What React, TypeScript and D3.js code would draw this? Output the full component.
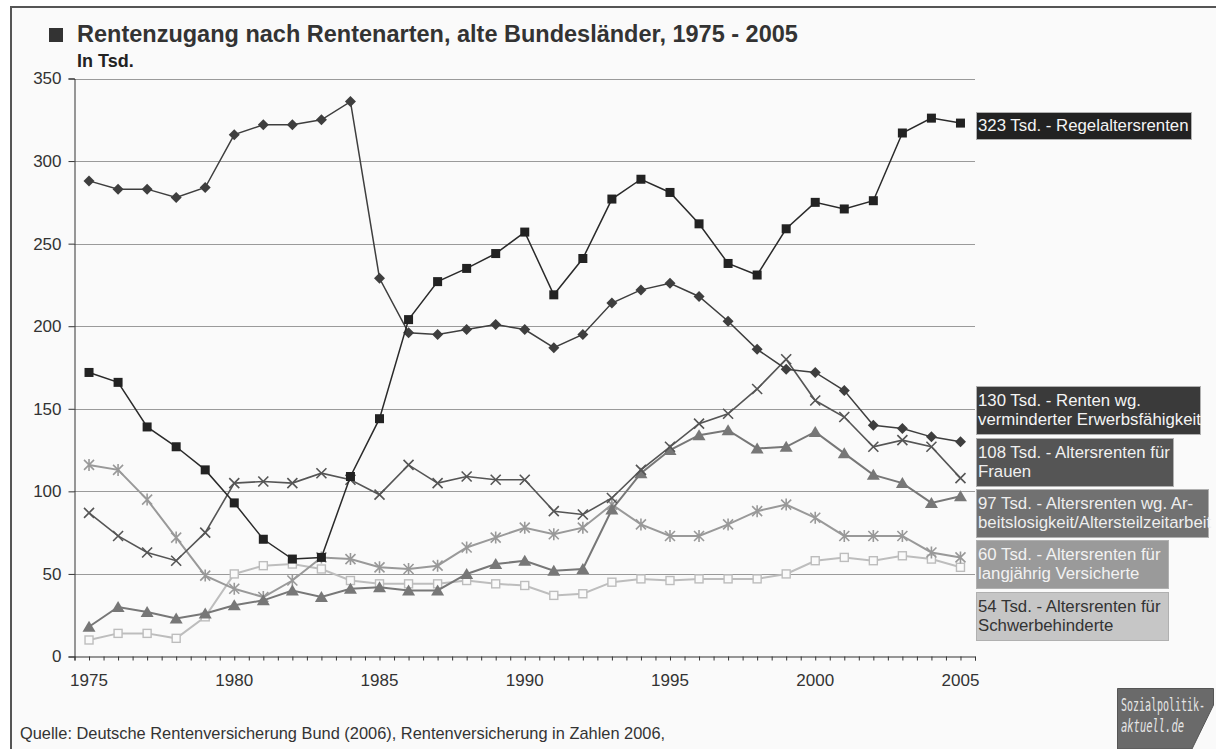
import * as d3 from "d3";
import { useLayoutEffect, useRef } from "react";

// years on the x axis
const years = d3.range(1975, 2006);

// values in thousand
const regelaltersrenten = [172, 166, 139, 127, 113, 93, 71, 59, 60, 109, 144, 204, 227, 235, 244, 257, 219, 241, 277, 289, 281, 262, 238, 231, 259, 275, 271, 276, 317, 326, 323];
const erwerbsfaehigkeit = [288, 283, 283, 278, 284, 316, 322, 322, 325, 336, 229, 196, 195, 198, 201, 198, 187, 195, 214, 222, 226, 218, 203, 186, 174, 172, 161, 140, 138, 133, 130];
const frauen = [87, 73, 63, 58, 75, 105, 106, 105, 111, 107, 98, 116, 105, 109, 107, 107, 88, 86, 96, 113, 127, 141, 147, 162, 180, 155, 145, 127, 131, 127, 108];
const arbeitslosigkeit = [18, 30, 27, 23, 26, 31, 34, 40, 36, 41, 42, 40, 40, 50, 56, 58, 52, 53, 89, 111, 125, 134, 137, 126, 127, 136, 123, 110, 105, 93, 97];
const langjaehrig = [116, 113, 95, 72, 49, 41, 36, 46, 60, 59, 54, 53, 55, 66, 72, 78, 74, 78, 92, 80, 73, 73, 80, 88, 92, 84, 73, 73, 73, 63, 60];
const schwerbehindert = [10, 14, 14, 11, 24, 50, 55, 56, 53, 46, 44, 44, 44, 46, 44, 43, 37, 38, 45, 47, 46, 47, 47, 47, 50, 58, 60, 58, 61, 59, 54];

const yTicks = [0, 50, 100, 150, 200, 250, 300, 350];
const xLabels = [1975, 1980, 1985, 1990, 1995, 2000, 2005];

type Marker = "square" | "diamond" | "x" | "triangle" | "star" | "hollow";

const series: { key: string; values: number[]; color: string; width: number; marker: Marker }[] = [
  { key: "schwer", values: schwerbehindert, color: "#bdbdbd", width: 2, marker: "hollow" },
  { key: "lang", values: langjaehrig, color: "#999", width: 2, marker: "star" },
  { key: "arbeit", values: arbeitslosigkeit, color: "#777", width: 2, marker: "triangle" },
  { key: "frauen", values: frauen, color: "#555", width: 1.6, marker: "x" },
  { key: "erwerb", values: erwerbsfaehigkeit, color: "#3e3e3e", width: 1.5, marker: "diamond" },
  { key: "regel", values: regelaltersrenten, color: "#2a2a2a", width: 1.5, marker: "square" },
];

// end labels on the right
const labels = [
  { lines: ["323 Tsd. - Regelaltersrenten"], top: 112, w: 215, fill: "#222", text: "#f4f4f4" },
  { lines: ["130 Tsd. - Renten wg.", "verminderter Erwerbsfähigkeit"], top: 386, w: 224, fill: "#3a3a3a", text: "#f4f4f4" },
  { lines: ["108 Tsd. - Altersrenten für", "Frauen"], top: 438, w: 197, fill: "#555", text: "#f0f0f0" },
  { lines: ["97 Tsd. - Altersrenten wg. Ar-", "beitslosigkeit/Altersteilzeitarbeit"], top: 489, w: 232, fill: "#717171", text: "#eeeeee" },
  { lines: ["60 Tsd. - Altersrenten für", "langjährig Versicherte"], top: 540, w: 192, fill: "#9a9a9a", text: "#f2f2f2" },
  { lines: ["54 Tsd. - Altersrenten für", "Schwerbehinderte"], top: 592, w: 192, fill: "#c6c6c6", text: "#333" },
];

const W = 1216;
const H = 749;
const FONT = "'Liberation Sans', Arial, sans-serif";

export default function App() {
  const ref = useRef<SVGSVGElement>(null);

  useLayoutEffect(() => {
    const svg = d3.select(ref.current);
    svg.selectAll("*").remove();

    const x = d3.scaleLinear().domain([1974.5, 2005.5]).range([74.5, 975]);
    const y = d3.scaleLinear().domain([0, 350]).range([656.5, 78.5]);

    // frame
    svg.append("rect").attr("width", W).attr("height", H).attr("fill", "#fff");
    svg.append("rect")
      .attr("x", 11).attr("y", 7).attr("width", W + 20).attr("height", H + 20)
      .attr("fill", "#fafafa").attr("stroke", "#555").attr("stroke-width", 2);

    // title
    svg.append("rect").attr("x", 49).attr("y", 28).attr("width", 14).attr("height", 14).attr("fill", "#333");
    svg.append("text")
      .attr("x", 77).attr("y", 42)
      .attr("font-family", FONT).attr("font-size", 23.5).attr("font-weight", "bold").attr("fill", "#333")
      .text("Rentenzugang nach Rentenarten, alte Bundesländer, 1975 - 2005");
    svg.append("text")
      .attr("x", 77).attr("y", 67)
      .attr("font-family", FONT).attr("font-size", 18).attr("font-weight", "bold").attr("fill", "#222")
      .text("In Tsd.");

    // grid
    svg.append("g").selectAll("line")
      .data(yTicks.filter((t) => t > 0))
      .join("line")
      .attr("x1", 74).attr("x2", 975)
      .attr("y1", (d) => Math.round(y(d)) + 0.5).attr("y2", (d) => Math.round(y(d)) + 0.5)
      .attr("stroke", "#9a9a9a").attr("stroke-width", 1);

    // y axis
    const yAxis = svg.append("g").attr("transform", "translate(74.5,0)")
      .call(d3.axisLeft(y).tickValues(yTicks).tickSize(6).tickPadding(7).tickFormat(d3.format("d")));
    yAxis.select(".domain").attr("stroke", "#333");
    yAxis.selectAll(".tick line").attr("stroke", "#333");
    yAxis.selectAll("text").attr("font-family", FONT).attr("font-size", 17).attr("fill", "#333");

    // x axis
    const xAxis = svg.append("g").attr("transform", "translate(0,656.5)")
      .call(d3.axisBottom(x).tickValues(d3.range(1974.5, 2006, 0.5)).tickSize(4).tickFormat(() => ""));
    xAxis.select(".domain").attr("stroke", "#333");
    xAxis.selectAll(".tick line").attr("stroke", "#333");
    svg.append("g").selectAll("text")
      .data(xLabels)
      .join("text")
      .attr("x", (d) => x(d)).attr("y", 686)
      .attr("text-anchor", "middle")
      .attr("font-family", FONT).attr("font-size", 17).attr("fill", "#333")
      .text((d) => d);

    // lines and markers
    const line = d3.line<number>().x((_, i) => x(years[i])).y((d) => y(d));
    series.forEach((s) => {
      const g = svg.append("g");
      g.append("path").attr("d", line(s.values)).attr("fill", "none")
        .attr("stroke", s.color).attr("stroke-width", s.width);
      const m = g.selectAll("g").data(s.values).join("g")
        .attr("transform", (d, i) => `translate(${x(years[i])},${y(d)})`);
      if (s.marker === "square") {
        m.append("rect").attr("x", -4.5).attr("y", -4.5).attr("width", 9).attr("height", 9).attr("fill", "#222");
      } else if (s.marker === "hollow") {
        m.append("rect").attr("x", -4).attr("y", -4).attr("width", 8).attr("height", 8)
          .attr("fill", "#fafafa").attr("stroke", s.color).attr("stroke-width", 1.4);
      } else if (s.marker === "diamond") {
        m.append("path").attr("d", "M0,-5.5L5.5,0L0,5.5L-5.5,0Z").attr("fill", s.color);
      } else if (s.marker === "triangle") {
        m.append("path").attr("d", "M0,-6L6.5,5L-6.5,5Z").attr("fill", s.color);
      } else {
        const r = 5;
        m.append("path")
          .attr("d", `M${-r},${-r}L${r},${r}M${-r},${r}L${r},${-r}` + (s.marker === "star" ? `M0,${-r - 1}L0,${r + 1}` : ""))
          .attr("stroke", s.color).attr("stroke-width", 1.6).attr("fill", "none");
      }
    });

    // end labels
    labels.forEach((l) => {
      const h = l.lines.length === 1 ? 27 : 48;
      const g = svg.append("g").attr("transform", `translate(976,${l.top})`);
      g.append("rect").attr("x", 0.5).attr("y", 0.5).attr("width", l.w).attr("height", h)
        .attr("fill", l.fill).attr("stroke", "#b0b0b0").attr("stroke-width", 1);
      l.lines.forEach((t, i) => {
        g.append("text").attr("x", 2).attr("y", (l.lines.length === 1 ? 19 : 20) + i * 19)
          .attr("font-family", FONT).attr("font-size", 16.8).attr("fill", l.text).text(t);
      });
    });

    // source
    svg.append("text").attr("x", 20).attr("y", 739)
      .attr("font-family", FONT).attr("font-size", 16.4).attr("fill", "#333")
      .text("Quelle: Deutsche Rentenversicherung Bund (2006), Rentenversicherung in Zahlen 2006,");

    // logo
    const logo = svg.append("g");
    logo.append("path").attr("d", "M1117.5,688.5L1213.5,688.5L1213.5,705L1192,749L1117.5,749Z")
      .attr("fill", "#6a6a6a").attr("stroke", "#555");
    logo.append("text").attr("x", 1121).attr("y", 711)
      .attr("font-family", "'DejaVu Sans Mono', monospace").attr("font-size", 18).attr("fill", "#e6e6e6")
      .attr("textLength", 84).attr("lengthAdjust", "spacingAndGlyphs").text("Sozialpolitik-");
    logo.append("text").attr("x", 1121).attr("y", 732)
      .attr("font-family", "'DejaVu Sans Mono', monospace").attr("font-size", 18).attr("font-style", "italic")
      .attr("fill", "#e6e6e6").attr("textLength", 63).attr("lengthAdjust", "spacingAndGlyphs").text("aktuell.de");
  }, []);

  return (
    <svg ref={ref} width={W} height={H} style={{ position: "absolute", left: 0, top: 0, display: "block" }} />
  );
}
